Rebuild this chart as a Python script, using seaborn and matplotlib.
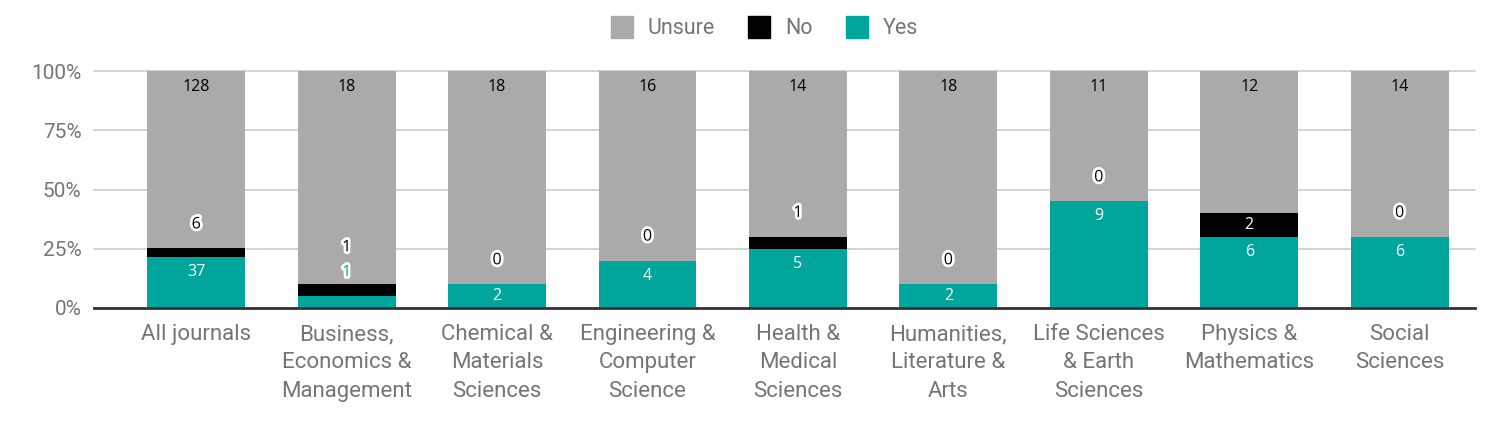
import pandas as pd
import seaborn as sns
import matplotlib.pyplot as plt
import matplotlib.patheffects as pe
from matplotlib.lines import Line2D
from matplotlib.ticker import PercentFormatter

categories = ['All journals', 'Business,\nEconomics &\nManagement', 'Chemical &\nMaterials\nSciences',
              'Engineering &\nComputer\nScience', 'Health &\nMedical\nSciences', 'Humanities,\nLiterature &\nArts',
              'Life Sciences\n& Earth\nSciences', 'Physics &\nMathematics', 'Social\nSciences']
yes = [37, 1, 2, 4, 5, 2, 9, 6, 6]
no = [6, 1, 0, 0, 1, 0, 0, 2, 0]
unsure = [128, 18, 18, 16, 14, 18, 11, 12, 14]

TEAL = '#00a69c'
GREY = '#aaaaaa'
TEXT_GREY = '#757575'
PX_PER_UNIT = 237  # pixels for 100% on this figure
LABEL_FONT = ['Open Sans', 'DejaVu Sans']


def main():
    sns.set_style('white')
    plt.rcParams['font.family'] = ['Roboto', 'DejaVu Sans']

    df = pd.DataFrame({'category': categories, 'yes': yes, 'no': no, 'unsure': unsure})
    total = df['yes'] + df['no'] + df['unsure']
    df['yes_share'] = df['yes'] / total
    df['yes_no_share'] = (df['yes'] + df['no']) / total
    df['full'] = 1.0

    fig = plt.figure(figsize=(15.08, 4.26), dpi=100)
    ax = fig.add_axes([0.0623, 0.277, 0.9157, 0.5563])

    bar_kw = dict(x='category', width=0.65, saturation=1, linewidth=0, edgecolor='none', ax=ax)
    sns.barplot(data=df, y='full', color=GREY, **bar_kw)
    sns.barplot(data=df, y='yes_no_share', color='black', **bar_kw)
    sns.barplot(data=df, y='yes_share', color=TEAL, **bar_kw)

    outline = [pe.withStroke(linewidth=4, foreground='white')]
    lab_kw = dict(ha='center', va='center', fontsize=11.5, family=LABEL_FONT)

    # Labels
    for i, row in df.iterrows():
        ax.annotate(str(row['unsure']), (i, 1.0), xytext=(0, -16), textcoords='offset pixels',
                    color='black', **lab_kw)

        yes_px = row['yes_share'] * PX_PER_UNIT
        no_px = (row['yes_no_share'] - row['yes_share']) * PX_PER_UNIT
        no_offset = 24
        if yes_px >= 18:
            ax.annotate(str(row['yes']), (i, row['yes_share']), xytext=(0, -min(15, yes_px / 2)),
                        textcoords='offset pixels', color='white', **lab_kw)
        else:
            ax.annotate(str(row['yes']), (i, row['yes_no_share']), xytext=(0, 12),
                        textcoords='offset pixels', color=TEAL, path_effects=outline, **lab_kw)
            no_offset = 37

        if no_px >= 18:
            mid = (row['yes_share'] + row['yes_no_share']) / 2
            ax.annotate(str(row['no']), (i, mid), color='white', **lab_kw)
        else:
            ax.annotate(str(row['no']), (i, row['yes_no_share']), xytext=(0, no_offset),
                        textcoords='offset pixels', color='black', path_effects=outline, **lab_kw)

    ax.set_ylim(0, 1.0)
    ax.set_xlim(-0.68, 8.5)
    ax.set_yticks([0, 0.25, 0.5, 0.75, 1.0])
    ax.yaxis.set_major_formatter(PercentFormatter(1.0, decimals=0))
    ax.grid(axis='y', color='#cccccc', linewidth=1.2)
    ax.set_axisbelow(True)
    for gl in ax.get_ygridlines():
        gl.set_clip_on(False)
    for side in ['top', 'right', 'left']:
        ax.spines[side].set_visible(False)
    ax.spines['bottom'].set_color('#333333')
    ax.spines['bottom'].set_linewidth(2)
    ax.spines['bottom'].set_zorder(5)
    ax.set_xlabel('')
    ax.set_ylabel('')
    ax.tick_params(axis='both', length=0)
    ax.tick_params(axis='y', labelsize=15, labelcolor=TEXT_GREY, pad=9)
    ax.tick_params(axis='x', labelsize=16, labelcolor=TEXT_GREY, pad=11.5)
    for lbl in ax.get_xticklabels():
        lbl.set_linespacing(1.47)

    handles = [Line2D([], [], marker='s', linestyle='', markersize=16, color=c)
               for c in [GREY, 'black', TEAL]]
    fig.legend(handles, ['Unsure', 'No', 'Yes'], loc='center', bbox_to_anchor=(0.507, 0.932), ncol=3,
               frameon=False, fontsize=15.5, labelcolor=TEXT_GREY, handlelength=1.0, handletextpad=0.7,
               columnspacing=1.55)

    fig.savefig('out.png', dpi=100)


if __name__ == '__main__':
    main()
